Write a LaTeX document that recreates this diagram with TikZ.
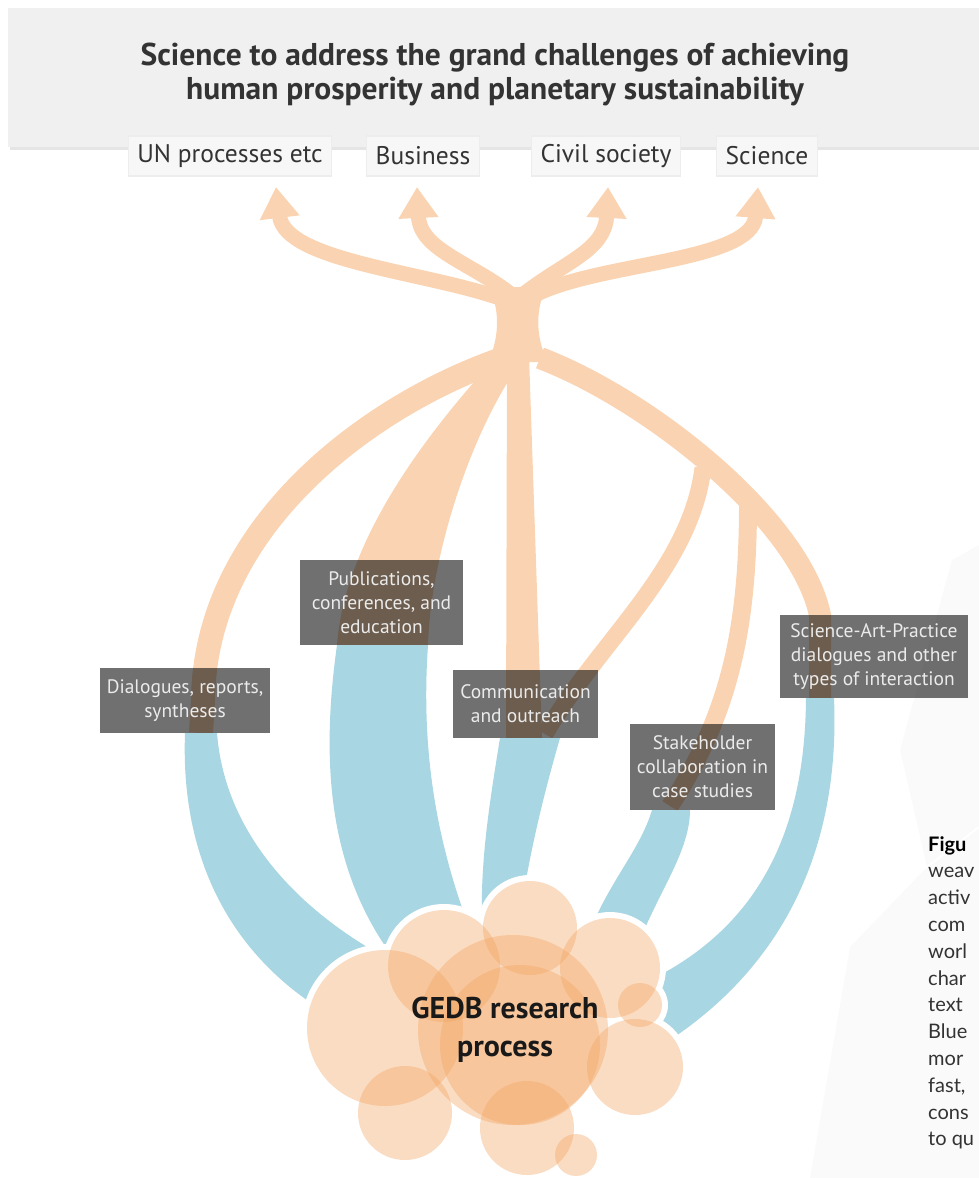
\documentclass[tikz,border=0pt]{standalone}
\usepackage{fontspec}
\setmainfont{PT Sans}
\newfontfamily\capfont{Lato}
\usetikzlibrary{arrows.meta,positioning}

\definecolor{rope}{HTML}{FAD4B2}
\definecolor{river}{HTML}{A8D6E2}
\definecolor{banner}{HTML}{F0F0F0}
\definecolor{ink}{HTML}{333333}
\definecolor{bubble}{HTML}{F4A460}

\begin{document}
\begin{tikzpicture}[x=1pt,y=-1pt,
  outcome/.style={fill=white!97!black, draw=black!7, line width=1.5pt, text=ink,
    font=\fontsize{25.5}{30}\selectfont, inner xsep=9pt, minimum height=40pt},
  stem/.style={draw=rope, line width=15pt, -{Triangle[width=38pt,length=31pt]}},
  strand/.style={draw=rope, line width=22pt},
  channel/.style={fill=black, fill opacity=0.56, text opacity=1, text=black!8,
    font=\fontsize{19.5}{24}\selectfont, align=center, inner sep=0pt},
  bubble/.style={fill=bubble, fill opacity=0.38},
  halo/.style={fill=white}
]
\useasboundingbox (0,0) rectangle (979,1178);

% -------- faint backdrop on the right --------
\fill[black!2] (952,560) -- (979,545) -- (979,1178) -- (810,1178) -- (850,947) -- (927,867) -- (900,750) -- cycle;
\draw[white, line width=2pt] (927,867) -- (979,827);

% -------- title banner --------
\fill[black!10] (10,11) rectangle (979,150);
\fill[banner] (8,8) rectangle (979,147);
\node[font=\bfseries\fontsize{31.5}{34}\selectfont, text=ink, align=center] (title) at (495,74)
{Science to address the grand challenges of achieving\\human prosperity and planetary sustainability};

% -------- outcome labels --------
\node[outcome] (un) at (230,156) {UN processes etc};
\node[outcome] (business) at (423,156) {Business};
\node[outcome] (civil) at (606,156) {Civil society};
\node[outcome] (science) at (767,156) {Science};

\coordinate (unTip) at (276,187);
\coordinate (businessTip) at (417,187);
\coordinate (civilTip) at (608,187);
\coordinate (scienceTip) at (758,187);

% -------- orange trunk and branches --------
\fill[rope] (488,288) .. controls (500,305) and (500,338) .. (488,362) -- (548,362) .. controls (535,338) and (535,305) .. (548,286) -- cycle;
\draw[stem] (505,300) .. controls (430,272) and (285,262) .. (unTip);
\draw[stem] (512,295) .. controls (470,262) and (420,250) .. (businessTip);
\draw[stem] (525,293) .. controls (565,262) and (605,250) .. (civilTip);
\draw[stem] (535,295) .. controls (600,262) and (752,262) .. (scienceTip);

\draw[strand, line width=24pt] (505,358) .. controls (380,400) and (205,520) .. (203,700) -- (201,733);
\fill[rope] (498,355) .. controls (425,435) and (345,540) .. (337,645) -- (428,645) .. controls (430,560) and (470,430) .. (524,358) -- cycle;
\fill[rope] (507,355) -- (506,738) -- (542,738) -- (529,355) -- cycle;
\draw[strand] (540,358) .. controls (650,400) and (800,520) .. (820,615) -- (820,698);
\draw[strand, line width=17pt] (703,468) .. controls (690,570) and (600,640) .. (545,734);
\draw[strand, line width=18pt] (748,505) .. controls (748,640) and (725,720) .. (670,806);

% -------- blue channels into the process --------
\fill[river] (185,733) .. controls (180,870) and (240,960) .. (325,1012) -- (390,960) .. controls (300,912) and (225,835) .. (217,733) -- cycle;
\fill[river] (337,645) .. controls (318,780) and (335,880) .. (395,960) -- (470,930) .. controls (440,850) and (420,760) .. (428,645) -- cycle;
\fill[river] (500,738) .. controls (490,800) and (480,860) .. (482,925) -- (522,905) .. controls (530,850) and (545,790) .. (560,738) -- cycle;
\fill[river] (652,810) .. controls (640,850) and (610,880) .. (588,935) -- (640,940) .. controls (660,890) and (690,850) .. (690,810) -- cycle;
\fill[river] (806,698) .. controls (805,830) and (760,930) .. (640,985) -- (670,1040) .. controls (790,960) and (840,840) .. (834,698) -- cycle;

% -------- activity boxes --------
\node[channel, minimum width=163pt, minimum height=85pt] (pub) at (381.5,602.5) {Publications,\\conferences, and\\education};
\node[channel, minimum width=170pt, minimum height=65pt] (dlg) at (185,700.5) {Dialogues, reports,\\syntheses};
\node[channel, minimum width=145pt, minimum height=68pt] (com) at (525.5,704) {Communication\\and outreach};
\node[channel, minimum width=188pt, minimum height=83pt] (sap) at (874,656.5) {Science-Art-Practice\\dialogues and other\\types of interaction};
\node[channel, minimum width=145pt, minimum height=86pt] (stk) at (702.5,767) {Stakeholder\\collaboration in\\case studies};

% -------- research process bubbles --------
\foreach \x/\y/\r in {530/928/47, 444/966/56, 385/1028/78, 513/1030/95, 610/968/50, 640/1005/22,
                      635/1067/48, 405/1113/47, 527/1128/47, 576/1155/21}
  \fill[halo] (\x,\y) circle[radius=\r+6];
\foreach \x/\y/\r in {530/928/47, 444/966/56, 385/1028/78, 513/1030/95, 610/968/50, 640/1005/22,
                      635/1067/48, 405/1113/47, 527/1128/47, 576/1155/21, 520/1045/80}
  \fill[bubble] (\x,\y) circle[radius=\r];
\node[font=\bfseries\fontsize{30}{38}\selectfont, text=black!90, align=center] (gedb) at (505,1030) {GEDB research\\process};

% -------- caption at the edge --------
\node[anchor=north west, align=left, inner sep=0pt, font=\capfont\fontsize{20}{26.8}\selectfont, text=black!80] (caption) at (928,836)
{\textbf{\color{black}Figu}\\weav\\activ\\com\\worl\\char\\text\\Blue\\mor\\fast,\\cons\\to qu};

\end{tikzpicture}
\end{document}
